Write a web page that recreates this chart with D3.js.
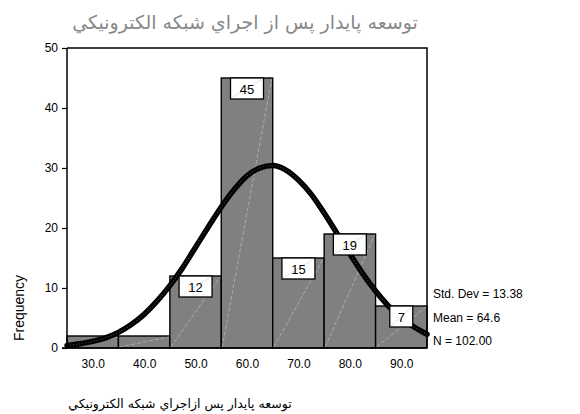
<!DOCTYPE html>
<html>
<head>
<meta charset="utf-8">
<script src="https://cdn.jsdelivr.net/npm/d3@7/dist/d3.min.js"></script>
<style>
  html, body { margin: 0; padding: 0; background: #fff; }
  svg { display: block; }
</style>
</head>
<body>
<svg id="chart" width="580" height="414"></svg>
<script>
// ---- data ----
const binStarts = [25, 35, 45, 55, 65, 75, 85];
const binWidth = 10;
const counts = [2, 2, 12, 45, 15, 19, 7];
const countLabels = ["", "", "12", "45", "15", "19", "7"];
const xTicks = [30, 40, 50, 60, 70, 80, 90];
const yTicks = [0, 10, 20, 30, 40, 50];
const curveX = [25, 27.5, 30, 32.5, 35, 37.5, 40, 42.5, 45, 47.5, 50, 52.5, 55, 57.5, 60, 62.5, 65, 67.5, 70, 72.5, 75, 77.5, 80, 82.5, 85, 87.5, 90, 92.5, 95];
const curveY = [0.4, 0.7, 1.1, 1.7, 2.6, 3.9, 5.6, 7.8, 10.4, 13.4, 16.8, 20.2, 23.5, 26.4, 28.7, 30.0, 30.4, 29.7, 28.0, 25.6, 22.5, 19.1, 15.7, 12.4, 9.5, 7.0, 5.0, 3.5, 2.3];
const statsLines = ["Std. Dev = 13.38", "Mean = 64.6", "N = 102.00"];
const titleText = "توسعه پايدار پس از اجراي شبكه الكترونيكي";
const xAxisTitle = "توسعه پايدار پس ازاجراي شبكه الكترونيكي";
const yAxisTitle = "Frequency";

// ---- layout ----
const L = 67, R = 427, T = 48, B = 348;
const svg = d3.select("#chart");
const x = d3.scaleLinear().domain([25, 95]).range([L, R]);
const y = d3.scaleLinear().domain([0, 50]).range([B, T]);
const latin = "'Liberation Sans', Arial, sans-serif";
const arabic = "'DejaVu Sans', sans-serif";

// bars
const bars = svg.append("g");
binStarts.forEach((s, i) => {
  const x0 = x(s), x1 = x(s + binWidth), y0 = y(counts[i]);
  bars.append("rect")
    .attr("x", x0).attr("y", y0)
    .attr("width", x1 - x0).attr("height", B - y0)
    .attr("fill", "#808080").attr("stroke", "#000").attr("stroke-width", 1.4);
  bars.append("line")
    .attr("x1", x0 + 1).attr("y1", B - 1).attr("x2", x1 - 1).attr("y2", y0 + 1)
    .attr("stroke", "#c8c8c8").attr("stroke-width", 0.6).attr("stroke-dasharray", "4,2");
});

// frame
svg.append("path")
  .attr("d", `M${L},${T}H${R}V${B}`)
  .attr("fill", "none").attr("stroke", "#000").attr("stroke-width", 1.5);
svg.append("line").attr("x1", L - 5).attr("x2", R).attr("y1", B).attr("y2", B)
  .attr("stroke", "#000").attr("stroke-width", 1.5);

// normal curve
const line = d3.line().x(d => x(d[0])).y(d => y(d[1])).curve(d3.curveMonotoneX);
const pts = curveX.map((v, i) => [v, curveY[i]]);
svg.append("path").datum(pts).attr("d", line)
  .attr("fill", "none").attr("stroke", "#000").attr("stroke-width", 5.5).attr("stroke-linecap", "round");
svg.append("path").datum(pts).attr("d", line)
  .attr("fill", "none").attr("stroke", "#444").attr("stroke-width", 1.2).attr("stroke-dasharray", "1,2");

// count label boxes
const lbl = svg.append("g");
binStarts.forEach((s, i) => {
  if (!countLabels[i]) return;
  const cx = x(s + binWidth / 2), top = y(counts[i]);
  const w = countLabels[i].length > 1 ? 33 : 23, h = 21;
  lbl.append("rect").attr("x", cx - w / 2).attr("y", top).attr("width", w).attr("height", h)
    .attr("fill", "#fff").attr("stroke", "#000").attr("stroke-width", 1.3);
  lbl.append("line").attr("x1", cx - w / 2 + 1).attr("y1", top + h - 1).attr("x2", cx + w / 2 - 1).attr("y2", top + 1)
    .attr("stroke", "#d0d0d0").attr("stroke-width", 0.6);
  lbl.append("text").attr("x", cx).attr("y", top + 15.5).attr("text-anchor", "middle")
    .attr("font-family", latin).attr("font-size", 13).attr("fill", "#000").text(countLabels[i]);
});

// y axis
const yAxis = d3.axisLeft(y).tickValues(yTicks).tickSize(5).tickPadding(4).tickFormat(d3.format("d"));
const gy = svg.append("g").attr("transform", `translate(${L},0)`).call(yAxis);
gy.select(".domain").attr("stroke", "#000").attr("stroke-width", 1.5).attr("d", `M0,${T}V${B}`);
gy.selectAll(".tick line").attr("stroke", "#000").attr("stroke-width", 1.2);
gy.selectAll(".tick text").attr("font-family", latin).attr("font-size", 12).attr("fill", "#000");

// x axis
const xAxis = d3.axisBottom(x).tickValues(xTicks).tickSize(0).tickPadding(11).tickFormat(d3.format(".1f"));
const gx = svg.append("g").attr("transform", `translate(0,${B})`).call(xAxis);
gx.select(".domain").remove();
gx.selectAll(".tick text").attr("font-family", latin).attr("font-size", 12).attr("fill", "#000");

// stats
statsLines.forEach((t, i) => {
  svg.append("text").attr("x", 433).attr("y", 298 + i * 23.5)
    .attr("font-family", latin).attr("font-size", 12).attr("fill", "#000").text(t);
});

// titles
svg.append("text").attr("x", 245).attr("y", 29).attr("text-anchor", "middle")
  .attr("font-family", arabic).attr("font-size", 19).attr("fill", "#888").text(titleText);
svg.append("text").attr("x", 180).attr("y", 408).attr("text-anchor", "middle")
  .attr("font-family", arabic).attr("font-size", 12.5).attr("fill", "#000").text(xAxisTitle);
svg.append("text").attr("transform", "translate(24,308) rotate(-90)").attr("text-anchor", "middle")
  .attr("font-family", latin).attr("font-size", 14).attr("fill", "#000").text(yAxisTitle);
</script>
</body>
</html>
